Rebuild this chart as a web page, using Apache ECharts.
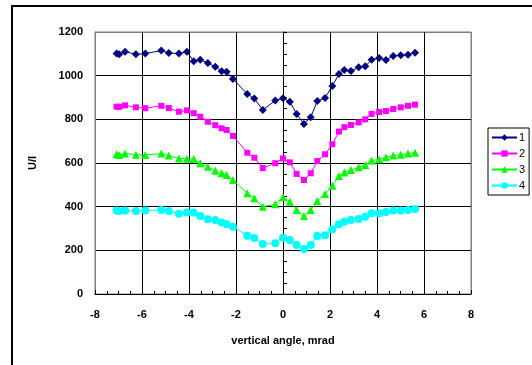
<!DOCTYPE html>
<html>
<head>
    <meta charset="utf-8">
    <title>U/I vs vertical angle</title>
    <script src="https://cdn.jsdelivr.net/npm/echarts@6.0.0/dist/echarts.min.js"></script>
    <style>
        body, html { margin: 0; padding: 0; background: #fff; }
        #main { width: 532px; height: 365px; }
    </style>
</head>
<body>
    <div id="main"></div>
    <script>
        // vertical angle, mrad
        const angles = [-7.08, -6.97, -6.72, -6.26, -5.86, -5.18, -4.86, -4.43, -4.09, -3.80,
                        -3.52, -3.20, -2.88, -2.61, -2.40, -2.13, -1.52, -1.22, -0.86, -0.33,
                        0.00, 0.29, 0.58, 0.89, 1.18, 1.46, 1.79, 2.10, 2.38, 2.61,
                        2.89, 3.22, 3.50, 3.77, 4.09, 4.38, 4.69, 5.01, 5.32, 5.62];

        // U/I for each run
        const run1 = [1102, 1098, 1110, 1098, 1101, 1115, 1104, 1101, 1110, 1066,
                      1073, 1058, 1041, 1020, 1018, 985, 916, 895, 843, 886,
                      897, 881, 825, 779, 809, 884, 898, 953, 1008, 1026,
                      1021, 1038, 1043, 1073, 1081, 1072, 1090, 1093, 1096, 1105];
        const run2 = [858, 857, 864, 855, 851, 862, 852, 835, 841, 828,
                      812, 789, 773, 759, 751, 724, 647, 624, 577, 599,
                      621, 603, 550, 522, 553, 609, 640, 686, 744, 764,
                      774, 786, 800, 825, 834, 838, 847, 855, 862, 867];
        const run3 = [640, 637, 644, 638, 637, 643, 634, 621, 620, 618,
                      599, 583, 565, 553, 545, 522, 461, 438, 400, 411,
                      443, 423, 385, 357, 385, 426, 458, 496, 540, 557,
                      568, 580, 591, 611, 617, 626, 634, 638, 644, 647];
        const run4 = [382, 380, 383, 380, 382, 385, 380, 368, 373, 373,
                      357, 342, 339, 327, 319, 308, 267, 256, 229, 232,
                      258, 247, 224, 206, 224, 266, 269, 296, 319, 331,
                      339, 343, 354, 370, 370, 376, 383, 383, 385, 389];

        const seriesNames = ['1', '2', '3', '4'];
        const seriesData = [run1, run2, run3, run4];
        const colors = ['#000080', '#FF00FF', '#00FF00', '#00FFFF'];
        const symbols = ['diamond', 'rect', 'triangle', 'circle'];
        const symbolSizes = [8, 6, 8, 8];

        const chart = echarts.init(document.getElementById('main'));
        const font = 'Arial, "Liberation Sans", sans-serif';

        const option = {
            backgroundColor: '#fff',
            animation: false,
            textStyle: { fontFamily: font },
            grid: {
                left: 95, top: 32, right: 61, bottom: 71,
                show: true, borderColor: '#808080', borderWidth: 1
            },
            xAxis: {
                type: 'value',
                min: -8, max: 8, interval: 2,
                name: 'vertical angle, mrad',
                nameLocation: 'middle',
                nameGap: 41,
                nameTextStyle: { fontFamily: font, fontWeight: 'bold', fontSize: 11, color: '#000' },
                axisLine: { onZero: false, lineStyle: { color: '#000', width: 1 } },
                axisTick: { inside: true, length: 4, lineStyle: { color: '#000' } },
                minorTick: { show: true, splitNumber: 4, length: 3, lineStyle: { color: '#000' } },
                axisLabel: { fontFamily: font, fontWeight: 'bold', fontSize: 11, color: '#000', margin: 15 },
                splitLine: {
                    show: true,
                    lineStyle: { color: ['#808080', '#000', '#000', '#000', '#000', '#000', '#000', '#000', '#808080'], width: 1 }
                }
            },
            yAxis: [{
                type: 'value',
                position: 'left',
                min: 0, max: 1200, interval: 200,
                name: 'U/I',
                nameLocation: 'middle',
                nameGap: 57,
                nameTextStyle: { fontFamily: font, fontWeight: 'bold', fontSize: 11, color: '#000' },
                axisLine: { show: true, onZero: false, lineStyle: { color: '#808080' } },
                axisTick: { show: false },
                axisLabel: {
                    fontFamily: font, fontWeight: 'bold', fontSize: 11, color: '#000', margin: 12,
                    formatter: v => String(v)
                },
                splitLine: {
                    show: true,
                    lineStyle: { color: ['#000', '#000', '#000', '#000', '#000', '#000', '#808080'], width: 1 }
                }
            }, {
                type: 'value',
                position: 'left',
                min: 0, max: 1200, interval: 200,
                axisLine: { show: true, onZero: true, lineStyle: { color: '#000', width: 1 } },
                axisTick: { show: true, inside: true, length: 4, lineStyle: { color: '#000' } },
                minorTick: { show: true, splitNumber: 4, length: 4, lineStyle: { color: '#000' } },
                axisLabel: { show: false },
                splitLine: { show: false }
            }],
            legend: {
                orient: 'vertical',
                left: 488, top: 128,
                padding: [4, 4, 4, 3],
                itemWidth: 25, itemHeight: 8, itemGap: 5,
                borderColor: '#000', borderWidth: 1,
                backgroundColor: '#fff',
                textStyle: { fontFamily: font, fontSize: 11, color: '#000', padding: [0, 0, 0, -3] },
                data: seriesNames
            },
            series: seriesNames.map((name, i) => ({
                name: name,
                type: 'line',
                symbol: symbols[i],
                symbolSize: symbolSizes[i],
                data: angles.map((a, k) => [a, seriesData[i][k]]),
                itemStyle: { color: colors[i] },
                lineStyle: { color: colors[i], width: 1 }
            })),
            graphic: [
                { type: 'line', shape: { x1: 11, y1: 6, x2: 532, y2: 6 }, style: { stroke: '#000', lineWidth: 2 } },
                { type: 'line', shape: { x1: 12, y1: 5, x2: 12, y2: 365 }, style: { stroke: '#000', lineWidth: 2 } }
            ]
        };

        chart.setOption(option);
    </script>
</body>
</html>
